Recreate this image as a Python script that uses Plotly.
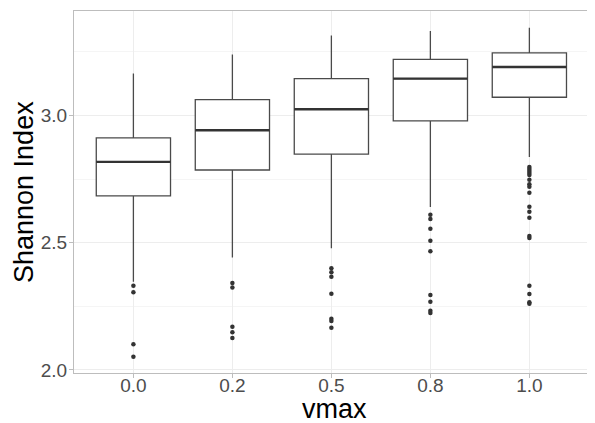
import plotly.graph_objects as go

categories = ["0.0", "0.2", "0.5", "0.8", "1.0"]
q1 = [2.684, 2.786, 2.848, 2.979, 3.072]
median = [2.818, 2.942, 3.025, 3.145, 3.191]
q3 = [2.912, 3.063, 3.145, 3.221, 3.246]
lowerfence = [2.347, 2.442, 2.478, 2.641, 2.837]
upperfence = [3.165, 3.240, 3.315, 3.332, 3.345]
outliers_0 = [2.331, 2.305, 2.101, 2.052]
outliers_1 = [2.342, 2.324, 2.170, 2.148, 2.126]
outliers_2 = [2.400, 2.384, 2.366, 2.300, 2.201, 2.192, 2.166]
outliers_3 = [2.610, 2.593, 2.555, 2.508, 2.467, 2.295, 2.268, 2.233, 2.224]
outliers_4 = [2.798, 2.790, 2.782, 2.774, 2.766, 2.748, 2.730, 2.720, 2.697,
              2.642, 2.622, 2.598, 2.527, 2.519, 2.331, 2.299, 2.266, 2.260]
outliers = [outliers_0, outliers_1, outliers_2, outliers_3, outliers_4]
y_ticks = [2.0, 2.5, 3.0]
y_ticklabels = ["2.0", "2.5", "3.0"]
x_title = "vmax"
y_title = "Shannon Index"

pos = list(range(len(categories)))
BOX_W = 0.75

fig = go.Figure()
fig.add_trace(go.Box(
    x=pos, q1=q1, median=median, q3=q3,
    lowerfence=lowerfence, upperfence=upperfence,
    width=BOX_W, boxpoints=False, fillcolor="white",
    line=dict(color="#4a4a4a", width=1.3), whiskerwidth=0,
    showlegend=False, hoverinfo="skip",
))

# thicker median lines (ggplot fatten)
mx, my = [], []
for p, m in zip(pos, median):
    mx += [p - BOX_W / 2, p + BOX_W / 2, None]
    my += [m, m, None]
fig.add_trace(go.Scatter(x=mx, y=my, mode="lines",
                         line=dict(color="#333333", width=2.4),
                         showlegend=False, hoverinfo="skip"))

ox, oy = [], []
for p, vals in zip(pos, outliers):
    ox += [p] * len(vals)
    oy += vals
fig.add_trace(go.Scatter(x=ox, y=oy, mode="markers",
                         marker=dict(color="#333333", size=4.5),
                         showlegend=False, hoverinfo="skip"))

minor_vals = [2.25, 2.75, 3.25]
W, H = 587, 415          # page body has an 8px margin
T, B, L = 3, 50, 66
plot_h = H - T - B
plot_w = W - L

fig.update_layout(
    width=W, height=H,
    margin=dict(l=L, r=0, t=T, b=B, autoexpand=False),
    plot_bgcolor="white", paper_bgcolor="white",
    font=dict(family="Liberation Sans, Arial, sans-serif"),
    xaxis=dict(
        tickmode="array", tickvals=pos, ticktext=categories,
        range=[-0.6, 4.663], automargin=False,
        showgrid=True, gridcolor="#EDEDED", gridwidth=1,
        zeroline=False,
        showline=True, mirror=True, linecolor="#BDBDBD", linewidth=1.3,
        ticks="outside", ticklen=4, tickcolor="#BDBDBD", tickwidth=1,
        ticklabelstandoff=-9,
        tickfont=dict(size=19, color="#4D4D4D"),
    ),
    yaxis=dict(
        tickmode="array", tickvals=y_ticks, ticktext=y_ticklabels,
        range=[1.988, 3.411], automargin=False,
        showgrid=True, gridcolor="#EDEDED", gridwidth=1,
        minor=dict(tickmode="array", tickvals=minor_vals, showgrid=True,
                   gridcolor="#F5F5F5", gridwidth=0.8),
        zeroline=False,
        showline=True, mirror=False, linecolor="#BDBDBD", linewidth=1.3,
        ticks="outside", ticklen=4, tickcolor="#BDBDBD", tickwidth=1,
        ticklabelstandoff=-2,
        tickfont=dict(size=19, color="#4D4D4D"),
    ),
    annotations=[
        dict(text=x_title, xref="paper", yref="paper", x=0.5, y=-36 / plot_h,
             xanchor="center", yanchor="middle", showarrow=False,
             borderpad=0, font=dict(size=27, color="black")),
        dict(text=y_title, xref="paper", yref="paper", x=-(L - 16) / plot_w,
             y=0.5, xanchor="center", yanchor="middle", textangle=-90,
             showarrow=False, font=dict(size=27, color="black")),
    ],
)

fig.write_html("out.html")
